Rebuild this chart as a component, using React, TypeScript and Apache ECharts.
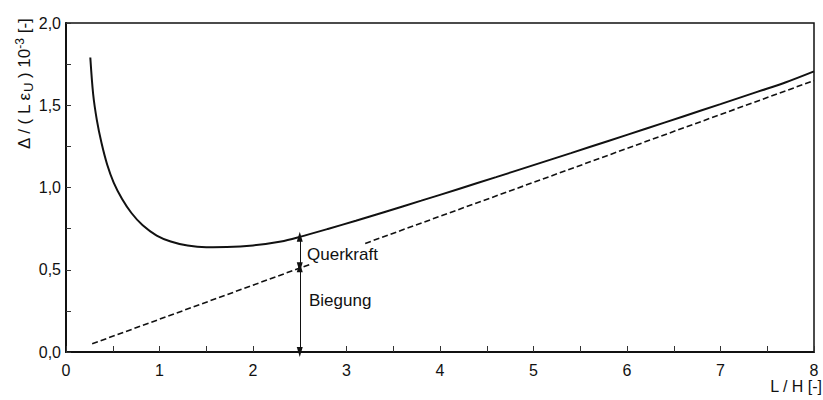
import React, { useEffect, useRef } from "react";
import * as echarts from "echarts";

const solidX = [0.26, 0.29, 0.33, 0.38, 0.44, 0.51, 0.6, 0.7, 0.82, 0.97, 1.12, 1.3, 1.5, 1.72, 2.0, 2.3, 2.5, 2.8, 3.1, 3.4, 3.8, 4.2, 4.6, 5.0, 5.4, 5.8, 6.2, 6.6, 7.0, 7.4, 7.7, 8.0];
const solidY = [1.79, 1.57, 1.41, 1.27, 1.14, 1.03, 0.93, 0.845, 0.77, 0.708, 0.672, 0.647, 0.637, 0.638, 0.648, 0.672, 0.7, 0.748, 0.798, 0.85, 0.92, 0.991, 1.063, 1.136, 1.209, 1.283, 1.357, 1.432, 1.507, 1.583, 1.64, 1.706];

const dashedLeftX = [0.28, 2.62];
const dashedLeftY = [0.05, 0.535];
const dashedRightX = [3.2, 8.0];
const dashedRightY = [0.66, 1.65];

const arrowX = 2.5;
const arrowLevels = [0, 0.515, 0.7];

const xTicks = [0, 1, 2, 3, 4, 5, 6, 7, 8];
const yTicks = [0, 0.5, 1.0, 1.5, 2.0];

const FONT = "Liberation Sans";

export default function App() {
  const ref = useRef<HTMLDivElement>(null);
  useEffect(() => {
    if (!ref.current) return;
    const chart = echarts.init(ref.current, null, { renderer: "svg" });
    const pair = (xs: number[], ys: number[]) => xs.map((x, i) => [x, ys[i]]);
    const option: any = {
      animation: false,
      grid: {
        left: 66,
        right: 9,
        top: 23,
        bottom: 48,
        show: true,
        borderColor: "#111",
        borderWidth: 1.5,
      },
      xAxis: {
        type: "value",
        min: xTicks[0],
        max: xTicks[xTicks.length - 1],
        interval: 0.5,
        axisLine: { show: true, onZero: false, lineStyle: { color: "#111", width: 2 } },
        axisTick: { show: true, inside: true, length: 6, lineStyle: { color: "#333", width: 1 } },
        splitLine: { show: false },
        axisLabel: {
          fontFamily: FONT,
          fontSize: 16,
          color: "#111",
          margin: 10,
          formatter: (v: number) => (xTicks.includes(v) ? String(v) : ""),
        },
      },
      yAxis: {
        type: "value",
        min: yTicks[0],
        max: yTicks[yTicks.length - 1],
        interval: 0.25,
        axisLine: { show: true, onZero: false, lineStyle: { color: "#111", width: 2 } },
        axisTick: { show: true, inside: true, length: 5, lineStyle: { color: "#333", width: 1 } },
        splitLine: { show: false },
        axisLabel: {
          fontFamily: FONT,
          fontSize: 16,
          color: "#111",
          margin: 5,
          formatter: (v: number) => (yTicks.includes(v) ? v.toFixed(1).replace(".", ",") : ""),
        },
      },
      series: [
        {
          type: "line",
          data: pair(solidX, solidY),
          showSymbol: false,
          smooth: 0.3,
          lineStyle: { color: "#111", width: 2 },
          silent: true,
        },
        {
          type: "line",
          data: pair(dashedLeftX, dashedLeftY),
          showSymbol: false,
          lineStyle: { color: "#111", width: 1.6, type: [6, 3] },
          silent: true,
        },
        {
          type: "line",
          data: pair(dashedRightX, dashedRightY),
          showSymbol: false,
          lineStyle: { color: "#111", width: 1.6, type: [6, 3] },
          silent: true,
          markLine: {
            silent: true,
            symbol: ["triangle", "triangle"],
            symbolSize: [6, 10],
            label: { show: false },
            lineStyle: { color: "#111", width: 1, type: "solid" },
            data: [
              [{ coord: [arrowX, arrowLevels[0]] }, { coord: [arrowX, arrowLevels[1]] }],
              [{ coord: [arrowX, arrowLevels[1]] }, { coord: [arrowX, arrowLevels[2]] }],
            ],
          },
        },
      ],
      graphic: [
        {
          type: "text",
          x: 24,
          y: 84,
          rotation: Math.PI / 2,
          style: {
            text: "{m|Δ / ( L ε}{sub|U}{m| ) 10}{sup|-3}{m| [-]}",
            align: "center",
            verticalAlign: "middle",
            rich: {
              m: { fontFamily: FONT, fontSize: 17, fill: "#111", lineHeight: 21 },
              sub: { fontFamily: FONT, fontSize: 13, fill: "#111", verticalAlign: "bottom", lineHeight: 21 },
              sup: { fontFamily: FONT, fontSize: 12, fill: "#111", verticalAlign: "top", lineHeight: 21 },
            },
          },
        },
        {
          type: "text",
          x: 307,
          y: 254,
          style: { text: "Querkraft", fontFamily: FONT, fontSize: 17, fill: "#111", verticalAlign: "middle", align: "left" },
        },
        {
          type: "text",
          x: 309,
          y: 300,
          style: { text: "Biegung", fontFamily: FONT, fontSize: 17, fill: "#111", verticalAlign: "middle", align: "left" },
        },
        {
          type: "text",
          x: 822,
          y: 386,
          style: { text: "L / H [-]", fontFamily: FONT, fontSize: 16, fill: "#111", verticalAlign: "middle", align: "right" },
        },
      ],
    };
    chart.setOption(option);
    return () => chart.dispose();
  }, []);
  return <div ref={ref} style={{ width: 823, height: 400, position: "absolute", left: 0, top: 0, background: "#fff" }} />;
}
